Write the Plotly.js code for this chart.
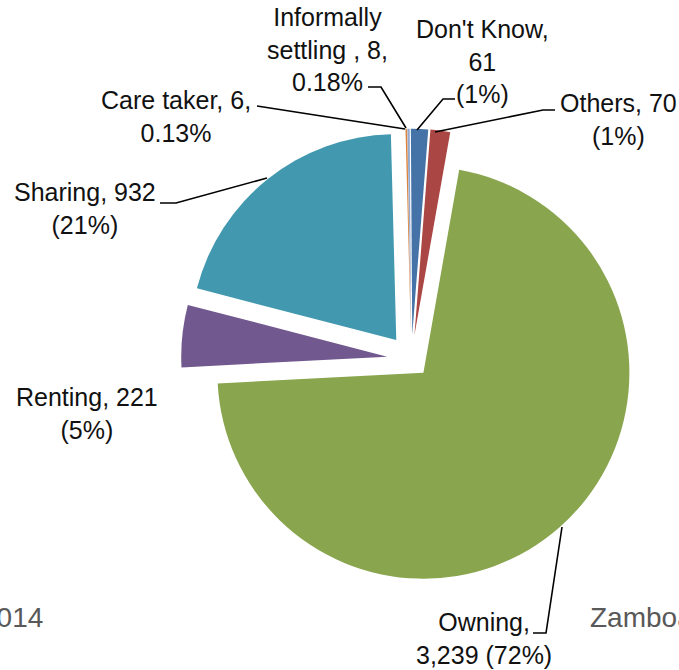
<!DOCTYPE html>
<html><head><meta charset="utf-8">
<script src="https://cdn.plot.ly/plotly-3.0.1.min.js"></script>
<style>html,body{margin:0;padding:0;background:#fff}#chart{width:679px;height:670px}</style>
</head><body><div id="chart"></div>
<script>
// ---- data ----
const categories = ['Care taker', 'Informally settling', "Don't Know", 'Others', 'Owning', 'Renting', 'Sharing'];
const counts = [6, 8, 61, 70, 3239, 221, 932];
const shareLabels = ['0.13%', '0.18%', '(1%)', '(1%)', '(72%)', '(5%)', '(21%)'];
const footerLeft = '2014';
const footerRight = 'Zamboanga';

// ---- style ----
const colors = ['#db843d', '#93a9cf', '#4572a7', '#aa4643', '#89a54e', '#71588f', '#4198af'];
const pulls = [0.118, 0.118, 0.118, 0.118, 0.088, 0.118, 0.118];

const W = 679, H = 670;
const px = x => x / W, py = y => 1 - y / H;
const fmt = n => n.toLocaleString('en-US');

// label text builders (line breaks follow the reference)
const textFns = [
  (c, n, p) => `${c}, ${fmt(n)},<br>${p}`,
  (c, n, p) => `${c.replace(' ', '<br>')} , ${fmt(n)},<br>${p}`,
  (c, n, p) => `${c},<br>${fmt(n)}<br>${p}`,
  (c, n, p) => `${c}, ${fmt(n)}<br>${p}`,
  (c, n, p) => `${c},<br>${fmt(n)} ${p}`,
  (c, n, p) => `${c}, ${fmt(n)}<br>${p}`,
  (c, n, p) => `${c}, ${fmt(n)}<br>${p}`
];
// label centres & leader lines (page pixels)
const labelPos = [[176, 116], [327, 49], [482, 61], [618, 119], [484, 638], [87, 413], [85, 208]];
const leaders = [
  [[257, 106], [405, 129]],
  [[368, 87], [381, 87], [406, 128]],
  [[455, 99], [443, 99], [417, 130]],
  [[555, 110], [543, 110], [435, 132]],
  [[533, 633], [546, 633], [562, 527]],
  null,
  [[160, 203], [176, 203], [267, 178]]
];

const font = {family: '"Liberation Sans", Arial, sans-serif', size: 25, color: '#111'};

const annotations = categories.map((c, i) => ({
  xref: 'paper', yref: 'paper', x: px(labelPos[i][0]), y: py(labelPos[i][1]),
  xanchor: 'center', yanchor: 'middle', align: 'center', showarrow: false,
  text: textFns[i](c, counts[i], shareLabels[i]), font: font
}));
annotations.push({xref: 'paper', yref: 'paper', x: px(45), y: py(617), xanchor: 'right', yanchor: 'middle',
  showarrow: false, text: footerLeft, font: {family: font.family, size: 28, color: '#595959'}});
annotations.push({xref: 'paper', yref: 'paper', x: px(588), y: py(617), xanchor: 'left', yanchor: 'middle',
  showarrow: false, text: footerRight, font: {family: font.family, size: 28, color: '#595959'}});

const shapes = leaders.filter(l => l).map(pts => ({
  type: 'path', xref: 'paper', yref: 'paper',
  path: pts.map((p, k) => (k ? 'L' : 'M') + px(p[0]) + ',' + py(p[1])).join(' '),
  line: {color: '#000', width: 1.6}
}));

const trace = {
  type: 'pie', labels: categories, values: counts, sort: false, direction: 'clockwise', rotation: -1.5,
  pull: pulls, marker: {colors: colors, line: {width: 0}}, textinfo: 'none', hoverinfo: 'none',
  domain: {x: [181.1 / W, 641.7 / W], y: [py(589.4), py(128.8)]}, showlegend: false
};

Plotly.newPlot('chart', [trace], {
  width: W, height: H, margin: {l: 0, r: 0, t: 0, b: 0},
  paper_bgcolor: '#fff', plot_bgcolor: '#fff', showlegend: false,
  annotations: annotations, shapes: shapes
}, {displayModeBar: false, staticPlot: true});
</script></body></html>
